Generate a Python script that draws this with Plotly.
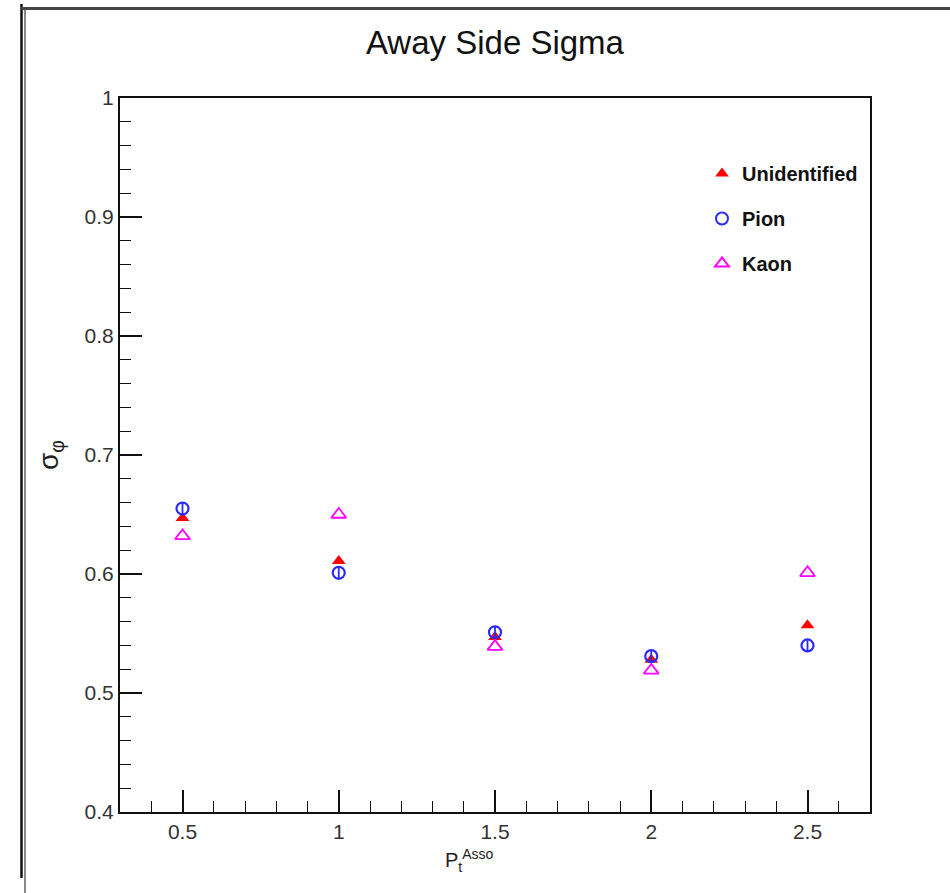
import plotly.graph_objects as go

# Associated-particle pT bins
pt_asso = [0.5, 1.0, 1.5, 2.0, 2.5]
pt_labels = ["0.5", "1", "1.5", "2", "2.5"]

# Away-side Gaussian width for each species
sigma_unid = [0.647, 0.611, 0.547, 0.528, 0.557]
sigma_pion = [0.655, 0.601, 0.551, 0.531, 0.540]
sigma_kaon = [0.632, 0.650, 0.539, 0.519, 0.601]
pion_err = [0.005, 0.005, 0.005, 0.005, 0.005]

sigma_ticks = [0.4, 0.5, 0.6, 0.7, 0.8, 0.9, 1.0]
sigma_labels = ["0.4", "0.5", "0.6", "0.7", "0.8", "0.9", "1"]

series_names = ["Unidentified", "Pion", "Kaon"]

FONT = "Liberation Sans, Arial, Helvetica"

fig = go.Figure()

fig.add_trace(go.Scatter(
    x=pt_asso, y=sigma_unid, mode="markers", name=series_names[0],
    legendgroup="u",
    marker=dict(symbol="triangle-up", size=12, color="#ff0000",
                line=dict(width=0)),
))
fig.add_trace(go.Scatter(
    x=pt_asso, y=sigma_pion, mode="markers", name=series_names[1],
    legendgroup="p",
    marker=dict(symbol="circle-open", size=12, color="#2a2aff",
                line=dict(width=2.2)),
    error_y=dict(type="data", array=pion_err, color="#2a2aff",
                 thickness=1.8, width=0),
))
fig.add_trace(go.Scatter(
    x=pt_asso, y=sigma_kaon, mode="markers", name=series_names[2],
    legendgroup="k",
    marker=dict(symbol="triangle-up-open", size=13, color="#ff00ff",
                line=dict(width=1.8)),
))

axis_common = dict(
    showgrid=False, zeroline=False, showline=True, mirror=True,
    linecolor="#111111", linewidth=2,
    ticks="inside", ticklen=22, tickwidth=1.6, tickcolor="#111111",
    tickfont=dict(family=FONT, size=21, color="#333333"),
)

fig.update_layout(
    width=950, height=893,
    margin=dict(l=120, r=80, t=98, b=81),
    paper_bgcolor="white", plot_bgcolor="white",
    title=dict(text="Away Side Sigma", x=0.521, xanchor="center",
               y=0.953, yanchor="middle",
               font=dict(family=FONT, size=33, color="#111111")),
    xaxis=dict(
        range=[0.3, 2.7], tickvals=pt_asso, ticktext=pt_labels,
        minor=dict(dtick=0.1, tick0=0, ticks="inside", ticklen=11,
                   tickwidth=1.3, tickcolor="#111111"),
        **axis_common,
    ),
    yaxis=dict(
        range=[0.4, 1.0], tickvals=sigma_ticks, ticktext=sigma_labels,
        minor=dict(dtick=0.02, tick0=0.4, ticks="inside", ticklen=11,
                   tickwidth=1.3, tickcolor="#111111"),
        title=dict(text="σ<sub>φ</sub>", standoff=18,
                   font=dict(family=FONT, size=28, color="#222222")),
        **axis_common,
    ),
    legend=dict(
        x=0.776, y=0.9216, xanchor="left", yanchor="top",
        bgcolor="rgba(0,0,0,0)", borderwidth=0,
        font=dict(family=FONT, size=20, color="#111111", weight="bold"),
        itemsizing="constant", tracegroupgap=16,
    ),
    showlegend=True,
)

# x-axis title, placed slightly left of centre
fig.add_annotation(
    text="P<sub>t</sub><sup>Asso</sup>", xref="paper", yref="paper",
    x=0.466, y=-0.045, xanchor="center", yanchor="top", showarrow=False,
    font=dict(family=FONT, size=20, color="#222222"),
)

# Canvas frame lines around the pad
pad_w, pad_h = 750.0, 714.0
def px_x(px):
    return (px - 120) / pad_w
def px_y(py):
    return 1 + (98 - py) / pad_h

fig.add_shape(type="line", xref="paper", yref="paper",
              x0=px_x(21.5), x1=px_x(21.5), y0=px_y(4), y1=px_y(878),
              line=dict(color="#111111", width=2.5))
fig.add_shape(type="line", xref="paper", yref="paper",
              x0=px_x(25), x1=px_x(25), y0=px_y(8), y1=px_y(893),
              line=dict(color="#888888", width=2))
fig.add_shape(type="line", xref="paper", yref="paper",
              x0=px_x(21), x1=px_x(950), y0=px_y(8.5), y1=px_y(8.5),
              line=dict(color="#444444", width=3))

fig.write_html("out.html")
